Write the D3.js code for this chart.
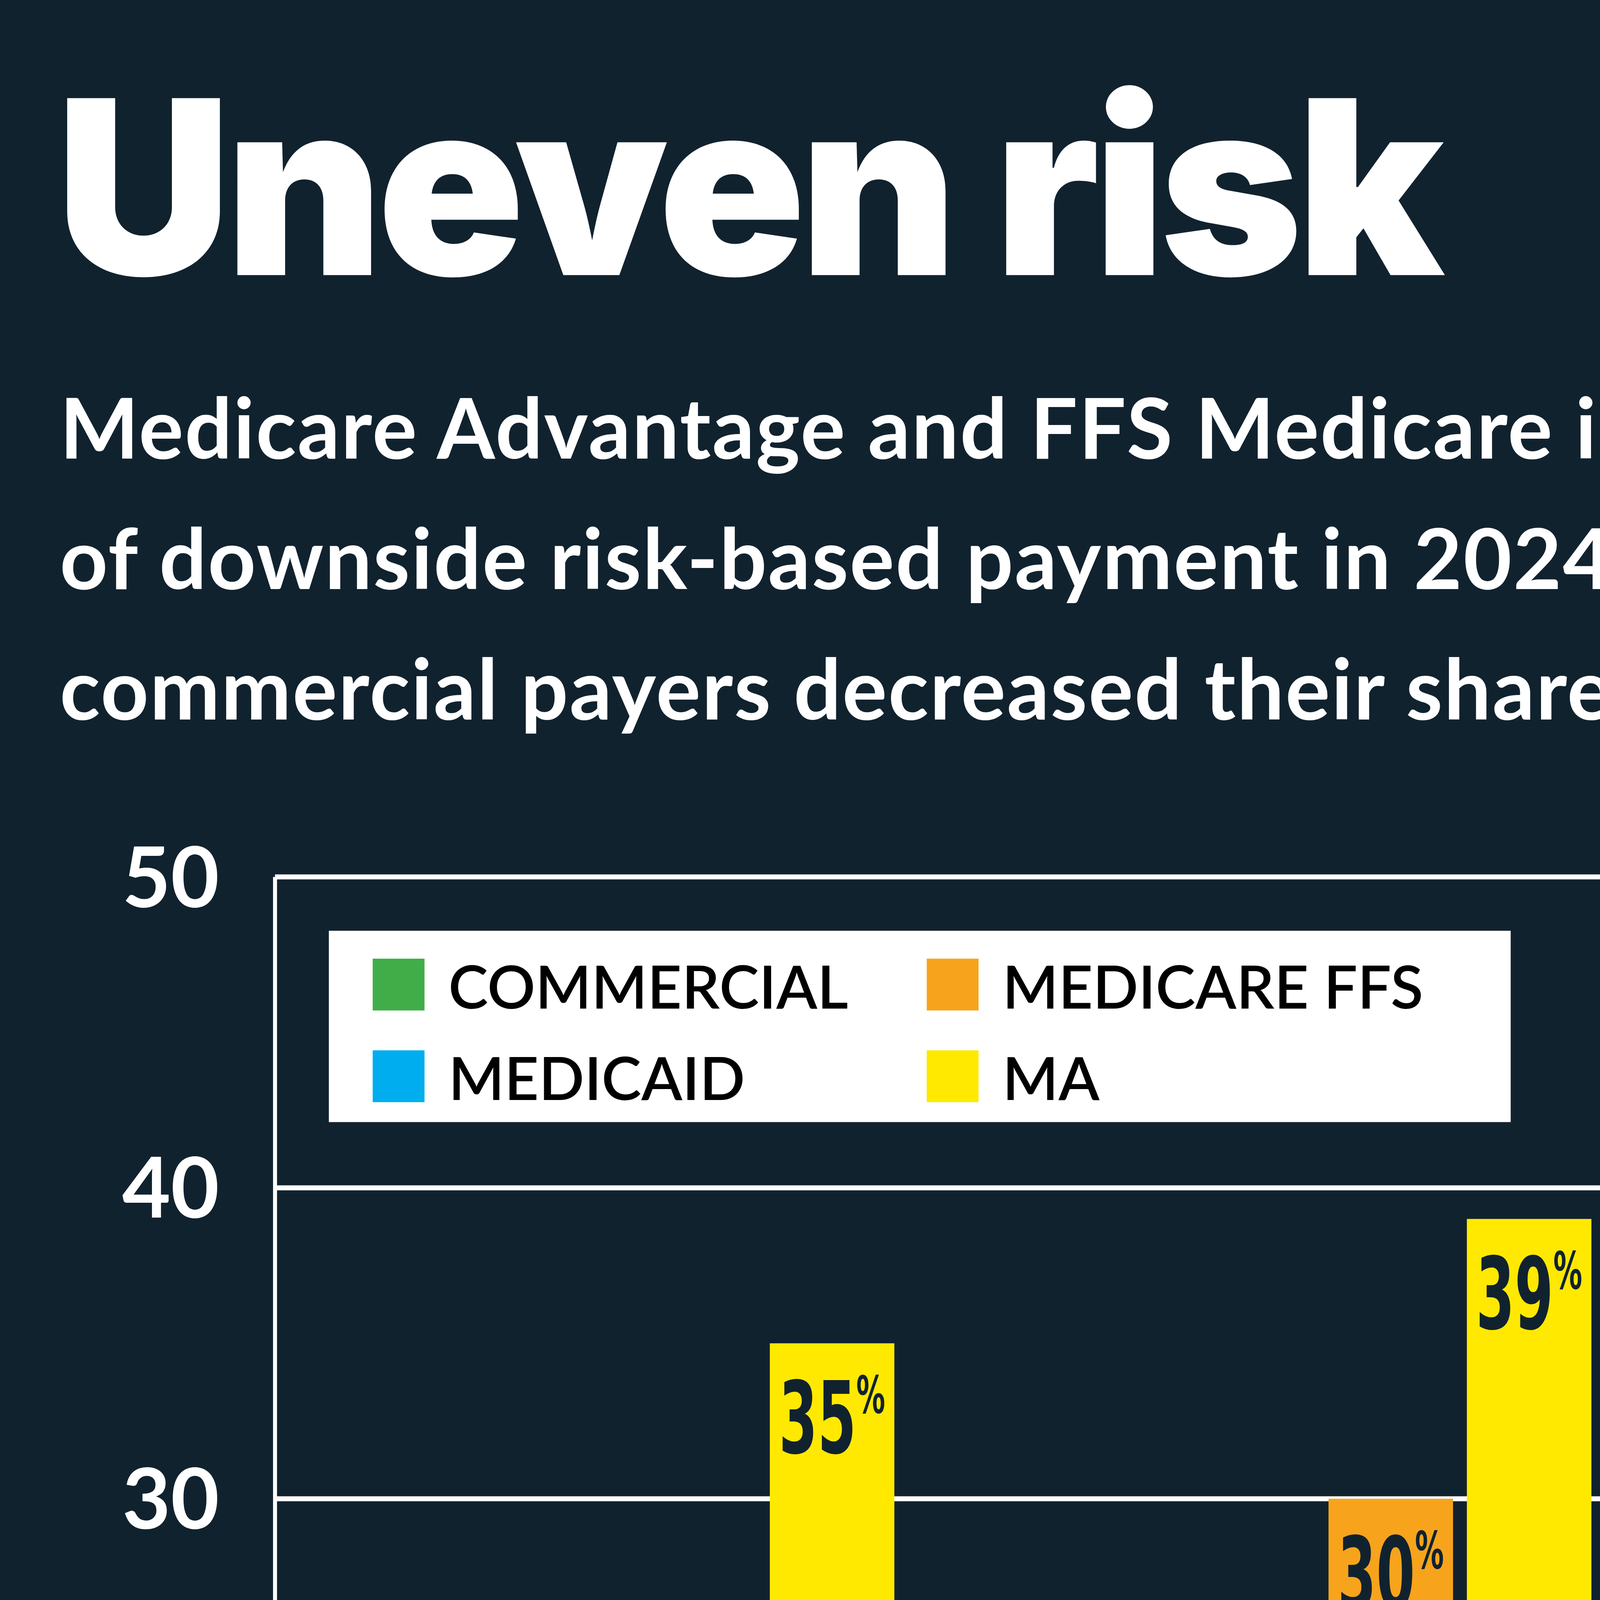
<!DOCTYPE html>
<html>
<head>
<meta charset="utf-8">
<script src="https://cdn.jsdelivr.net/npm/d3@7"></script>
<style>
  html, body { margin: 0; padding: 0; background: #11222f; overflow: hidden; }
  svg { display: block; }
</style>
</head>
<body>
<div class="chart"></div>
<script>
// data
var years = ["2021", "2022", "2023", "2024"];
var seriesNames = ["COMMERCIAL", "MEDICAID", "MEDICARE FFS", "MA"];
var commercial = [13, 17, 22, 19];
var medicaid = [17, 19, 21, 21];
var medicareFfs = [24, 30, 34, 36];
var ma = [35, 39, 43, 45];
var yTicks = [10, 20, 30, 40, 50];
var colors = ["#41ad49", "#00aeef", "#f7a41c", "#ffe900"];

var allSeries = [commercial, medicaid, medicareFfs, ma];

//frame is drawn in a 1568 wide coordinate system and scaled up
var W = 1568, H = 1463.5;
var svg = d3.select("div.chart").append("svg")
    .attr("width", 8000)
    .attr("height", 7467)
    .attr("viewBox", "0 0 " + W + " " + H);

svg.append("rect").attr("width", W).attr("height", H).attr("fill", "#11222f");

var sans = "Lato, 'Open Sans', sans-serif";

// title + subtitle
svg.append("text")
    .attr("x", 28).attr("y", 138)
    .attr("font-family", "Inter, Lato, sans-serif")
    .attr("font-weight", 900)
    .attr("font-size", 122)
    .attr("letter-spacing", -3)
    .attr("fill", "#fff")
    .text("Uneven risk");

var subLines = [
    "Medicare Advantage and FFS Medicare increased their share",
    "of downside risk-based payment in 2024, while Medicaid and",
    "commercial payers decreased their share."
];
svg.selectAll(".sub").data(subLines).enter().append("text")
    .attr("class", "sub")
    .attr("x", 30)
    .attr("y", function(d, i){ return 230 + i * 65.5; })
    .attr("font-family", sans)
    .attr("font-weight", 700)
    .attr("font-size", 42)
    .attr("letter-spacing", 0.6)
    .attr("fill", "#fff")
    .text(function(d){ return d; });

// scales (plotTop, not "top" - that one is window.top)
var plotLeft = 138, plotRight = 1537, plotTop = 440, plotBottom = 1220;
var x0 = d3.scaleBand().domain(years).range([plotLeft, plotRight]).padding(0);
var x1 = d3.scaleBand().domain(d3.range(4)).range([40, x0.bandwidth() - 39]).paddingInner(0.1);
var y = d3.scaleLinear().domain([0, 50]).range([plotBottom, plotTop]);

// gridlines
svg.selectAll(".grid").data(yTicks).enter().append("line")
    .attr("x1", plotLeft).attr("x2", plotRight)
    .attr("y1", function(d){ return y(d); })
    .attr("y2", function(d){ return y(d); })
    .attr("stroke", "#fff").attr("stroke-width", 2.5);

svg.selectAll(".ylab").data(yTicks).enter().append("text")
    .attr("x", 110)
    .attr("y", function(d){ return y(d) + 15; })
    .attr("text-anchor", "end")
    .attr("font-family", sans)
    .attr("font-weight", 700)
    .attr("font-size", 42)
    .attr("fill", "#fff")
    .text(function(d){ return d; });

// bars
var groups = svg.selectAll(".yr").data(years).enter().append("g")
    .attr("transform", function(d){ return "translate(" + x0(d) + ",0)"; });

groups.each(function(yr, gi){
    var g = d3.select(this);
    allSeries.forEach(function(s, si){
        var v = s[gi];
        var bx = x1(si), bw = x1.bandwidth();
        g.append("rect")
            .attr("x", bx).attr("width", bw)
            .attr("y", y(v)).attr("height", y(0) - y(v))
            .attr("fill", colors[si]);
        var t = g.append("text")
            .attr("transform", "translate(" + (bx + bw / 2) + "," + (y(v) + 55) + ") scale(0.62,1)")
            .attr("text-anchor", "middle")
            .attr("font-family", "'DejaVu Sans Condensed', 'DejaVu Sans', sans-serif")
            .attr("font-weight", 700)
            .attr("fill", "#11222f");
        t.append("tspan").attr("font-size", 50).text(v);
        t.append("tspan").attr("font-size", 26).attr("dy", -20).text("%");
    });
});

// axes lines
svg.append("line").attr("x1", plotLeft).attr("x2", plotLeft).attr("y1", plotTop).attr("y2", plotBottom)
    .attr("stroke", "#fff").attr("stroke-width", 2);
svg.selectAll(".tick").data(years).enter().append("line")
    .attr("x1", function(d){ return x0(d) + x0.bandwidth(); })
    .attr("x2", function(d){ return x0(d) + x0.bandwidth(); })
    .attr("y1", plotBottom - 14).attr("y2", plotBottom)
    .attr("stroke", "#fff").attr("stroke-width", 2);
svg.append("line").attr("x1", plotLeft).attr("x2", plotRight + 1).attr("y1", plotBottom + 1).attr("y2", plotBottom + 1)
    .attr("stroke", "#fff").attr("stroke-width", 5);

svg.selectAll(".xlab").data(years).enter().append("text")
    .attr("x", function(d){ return x0(d) + x0.bandwidth() / 2 - (d == "2021" ? 46 : 0); })
    .attr("y", 1281)
    .attr("text-anchor", "middle")
    .attr("font-family", sans)
    .attr("font-weight", 700)
    .attr("font-size", 44)
    .attr("fill", "#fff")
    .text(function(d){ return d; });

// legend
svg.append("rect").attr("x", 165).attr("y", 467).attr("width", 593).attr("height", 96).attr("fill", "#fff");
var legPos = [[187, 481], [187, 527], [465, 481], [465, 527]];
seriesNames.forEach(function(n, i){
    svg.append("rect").attr("x", legPos[i][0]).attr("y", legPos[i][1])
        .attr("width", 26).attr("height", 26).attr("fill", colors[i]);
    svg.append("text").attr("x", legPos[i][0] + 38).attr("y", legPos[i][1] + 25)
        .attr("font-family", sans).attr("font-weight", 600).attr("font-size", 30)
        .attr("fill", "#000").text(n);
});

// source
var src = svg.append("text").attr("x", 30).attr("y", 1426)
    .attr("font-family", sans).attr("font-size", 28).attr("fill", "#fff");
src.append("tspan").text("Source: AHIP, APM Measurement: ");
src.append("tspan").attr("font-style", "italic").text("Progress of Alternative Payment Models");
src.append("tspan").text(", February 2026");
</script>
</body>
</html>
